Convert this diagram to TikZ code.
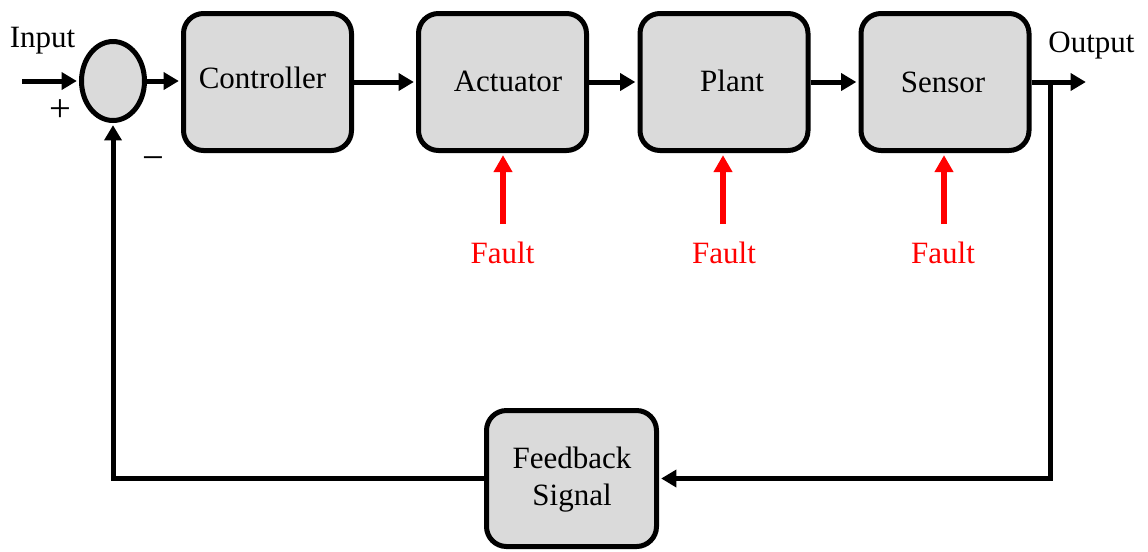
\documentclass[tikz,border=0pt]{standalone}
\usepackage{fontspec}
\setmainfont{Liberation Serif}
\usetikzlibrary{arrows.meta,shapes.geometric}
\definecolor{boxgray}{HTML}{DADADA}
\definecolor{faultred}{HTML}{FF0000}
\begin{document}
\begin{tikzpicture}[x=0.75pt,y=-0.75pt,
  font=\fontsize{23.25pt}{26pt}\selectfont,
  block/.style={draw=black,fill=boxgray,line width=3.75pt,rounded corners=15pt,
    minimum width=126pt,minimum height=102.75pt,inner sep=0pt},
  summer/.style={draw=black,fill=boxgray,line width=3.75pt,ellipse,
    minimum width=47.25pt,minimum height=59.25pt,inner sep=0pt},
  txt/.style={anchor=base,inner sep=0pt},
  signtxt/.style={inner sep=0pt,font=\fontsize{29pt}{30pt}\selectfont},
  sig/.style={line width=3.75pt,draw=black,
    -{Triangle[length=11.5pt,width=12.75pt]},shorten >=1.6pt},
  faultarrow/.style={line width=4.5pt,draw=faultred,
    -{Triangle[length=12.75pt,width=13.5pt]},shorten >=1.6pt},
  faulttxt/.style={anchor=base,inner sep=0pt,text=faultred}]
\useasboundingbox (0,0) rectangle (1148,551);

% summing junction and forward-path blocks
\node[summer] (sum) at (113,81) {};
\node[block] (ctrl) at (267.5,82) {};
\node[block] (act) at (502.5,82) {};
\node[block] (plant) at (724,82) {};
\node[block] (sens) at (945,82) {};
\node[block,minimum width=127.5pt,minimum height=102pt] (fb) at (571.5,478.5) {};

% block labels
\node[txt] (ctrlT) at (262.5,88) {Controller};
\node[txt] (actT) at (508,91) {Actuator};
\node[txt] (plantT) at (732,91) {Plant};
\node[txt] (sensT) at (943,92) {Sensor};
\node[txt] (fbT1) at (572,468) {Feedback};
\node[txt] (fbT2) at (572,505) {Signal};

% signal names and signs
\node[txt] (inT) at (42.5,47) {Input};
\node[txt] (outT) at (1091.5,52) {Output};
\node[signtxt] (plus) at (60,111) {+};
\node[signtxt] (minus) at (153,164) {−};

% forward path
\coordinate (in) at (22,81);
\coordinate (out) at (1088,82);
\coordinate (branch) at (1050,82);
\draw[sig] (in) -- (sum.west);
\draw[sig] (sum.east) -- (sum.east -| ctrl.west);
\draw[sig] (ctrl.east) -- (act.west);
\draw[sig] (act.east) -- (plant.west);
\draw[sig] (plant.east) -- (sens.west);
\draw[sig] (sens.east) -- (out);

% feedback path
\draw[sig] (branch) |- (fb.east);
\draw[sig] (fb.west) -| (sum.south);

% fault injections
\node[faulttxt] (f1) at (502.5,263) {Fault};
\node[faulttxt] (f2) at (724,263) {Fault};
\node[faulttxt] (f3) at (943,263) {Fault};
\coordinate (f1s) at (503,224);
\coordinate (f2s) at (723,224);
\coordinate (f3s) at (944,224);
\draw[faultarrow] (f1s) -- (f1s |- act.south);
\draw[faultarrow] (f2s) -- (f2s |- plant.south);
\draw[faultarrow] (f3s) -- (f3s |- sens.south);
\end{tikzpicture}
\end{document}
